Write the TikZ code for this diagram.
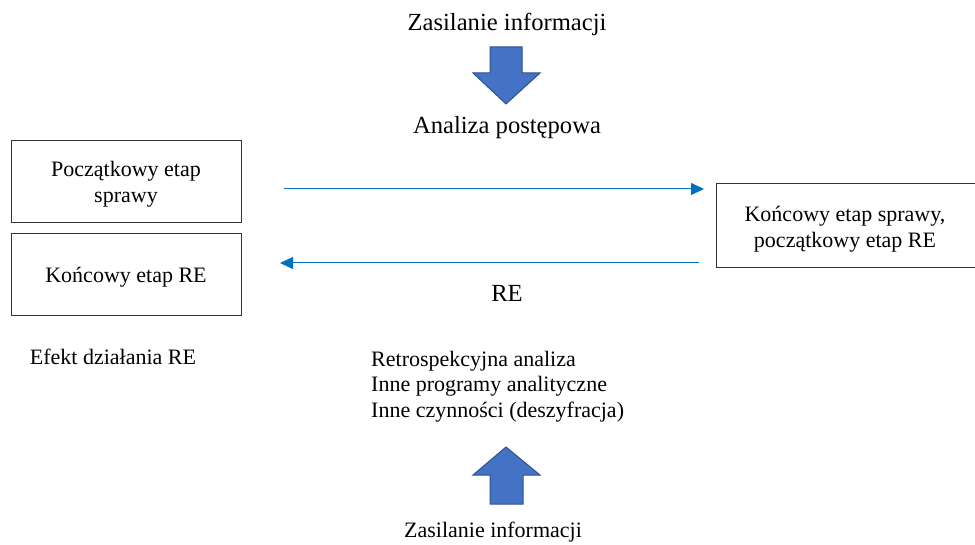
\documentclass[tikz,border=0pt]{standalone}
\usepackage{fontspec}
\setmainfont{Liberation Serif}
\usetikzlibrary{arrows.meta}
\definecolor{lineblue}{RGB}{0,112,192}
\definecolor{arrfill}{RGB}{68,114,196}
\definecolor{arrdraw}{RGB}{47,82,143}
\tikzset{
  stagebox/.style={draw=black!80, line width=0.9pt},
  bigtxt/.style={font=\fontsize{24.6}{29}\selectfont, inner sep=0pt},
  txt/.style={font=\fontsize{22}{25.5}\selectfont, inner sep=0pt, align=center},
  flow/.style={draw=lineblue, line width=1pt, -{Triangle[length=13pt,width=12pt]}},
  blockarrow/.style={fill=arrfill, draw=arrdraw, line width=1pt, line join=miter}
}
\begin{document}
\begin{tikzpicture}[x=1pt,y=-1pt]
\useasboundingbox (0,0) rectangle (975,545);
\clip (0,0) rectangle (975,545);
% boxes
\draw[stagebox] (11,140) rectangle (241,222);
\draw[stagebox] (11,233) rectangle (241,315);
\draw[stagebox] (716,183) rectangle (976,267);
\node[txt] (b1) at (126,184) {Początkowy etap\\sprawy};
\node[txt] (b2) at (126,277) {Końcowy etap RE};
\node[txt] (b3) at (845,229) {Końcowy etap sprawy,\\początkowy etap RE};
% headings
\node[bigtxt] (top) at (507,24) {Zasilanie informacji};
\node[bigtxt] (ap) at (507,128) {Analiza postępowa};
\node[bigtxt] (re) at (507,293) {RE};
\node[txt] (ef) at (113,357) {Efekt działania RE};
\node[txt, align=left, anchor=north west] (list) at (371,351) {Retrospekcyjna analiza\\Inne programy analityczne\\Inne czynności (deszyfracja)};
\node[txt] (bot) at (493,532) {Zasilanie informacji};
% flow arrows
\coordinate (r1) at (284,189);
\coordinate (r2) at (704,189);
\coordinate (l1) at (699,263);
\coordinate (l2) at (280,263);
\draw[flow] (r1) -- (r2);
\draw[flow] (l1) -- (l2);
% block arrows
\draw[blockarrow] (490,47) -- (522,47) -- (522,73) -- (540,73) -- (506,104) -- (473,73) -- (490,73) -- cycle;
\draw[blockarrow] (490,504) -- (523,504) -- (523,475) -- (540,475) -- (506,447) -- (473,475) -- (490,475) -- cycle;
\end{tikzpicture}
\end{document}
